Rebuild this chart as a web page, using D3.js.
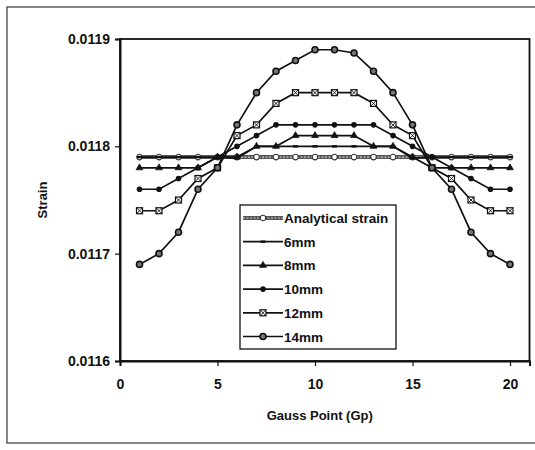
<!DOCTYPE html>
<html>
<head>
<meta charset="utf-8">
<script src="https://cdn.jsdelivr.net/npm/d3@7/dist/d3.min.js"></script>
<style>
  html, body { margin: 0; padding: 0; background: #fff; }
  svg { display: block; font-family: "Liberation Sans", Arial, sans-serif; }
</style>
</head>
<body>
<div id="chart"></div>
<script>
// Strain along the gauss points, one series per mesh size
const gaussPoints = [1, 2, 3, 4, 5, 6, 7, 8, 9, 10, 11, 12, 13, 14, 15, 16, 17, 18, 19, 20];

const analytical = [0.01179, 0.01179, 0.01179, 0.01179, 0.01179, 0.01179, 0.01179, 0.01179, 0.01179, 0.01179,
                    0.01179, 0.01179, 0.01179, 0.01179, 0.01179, 0.01179, 0.01179, 0.01179, 0.01179, 0.01179];
const mm6  = [0.01179, 0.01179, 0.01179, 0.01179, 0.01179, 0.011789, 0.0118, 0.0118, 0.0118, 0.0118,
              0.0118, 0.0118, 0.0118, 0.0118, 0.011789, 0.01179, 0.01179, 0.01179, 0.01179, 0.01179];
const mm8  = [0.01178, 0.01178, 0.01178, 0.01178, 0.01179, 0.01179, 0.0118, 0.0118, 0.01181, 0.01181,
              0.01181, 0.01181, 0.0118, 0.0118, 0.01179, 0.01178, 0.01178, 0.01178, 0.01178, 0.01178];
const mm10 = [0.01176, 0.01176, 0.01177, 0.01178, 0.01179, 0.0118, 0.01181, 0.01182, 0.01182, 0.01182,
              0.01182, 0.01182, 0.01182, 0.01181, 0.0118, 0.01179, 0.01178, 0.01177, 0.01176, 0.01176];
const mm12 = [0.01174, 0.01174, 0.01175, 0.01177, 0.01178, 0.01181, 0.01182, 0.01184, 0.01185, 0.01185,
              0.01185, 0.01185, 0.01184, 0.01182, 0.01181, 0.01178, 0.01177, 0.01175, 0.01174, 0.01174];
const mm14 = [0.01169, 0.0117, 0.01172, 0.01176, 0.01178, 0.01182, 0.01185, 0.01187, 0.01188, 0.01189,
              0.01189, 0.011887, 0.01187, 0.01185, 0.01182, 0.01178, 0.01176, 0.01172, 0.0117, 0.01169];

const seriesNames = ["Analytical strain", "6mm", "8mm", "10mm", "12mm", "14mm"];
const seriesValues = [analytical, mm6, mm8, mm10, mm12, mm14];
const markerKinds = ["openCircle", "dash", "triangle", "dot", "boxX", "ringCircle"];

const yTicks = [0.0116, 0.0117, 0.0118, 0.0119];
const xTicks = [0, 5, 10, 15, 20];

const xTitle = "Gauss Point (Gp)";
const yTitle = "Strain";

// -------------------------------
// layout
// -------------------------------
const width = 535, height = 450;
const plot = { left: 120, top: 39, right: 529.5, bottom: 361 };

const svg = d3.select("#chart").append("svg")
  .attr("width", width)
  .attr("height", height);

// outer chart frame (right edge runs off the picture)
svg.append("rect")
  .attr("x", 7).attr("y", 7)
  .attr("width", 540).attr("height", 436)
  .attr("fill", "none")
  .attr("stroke", "#444")
  .attr("stroke-width", 1.3);

const x = d3.scaleLinear().domain([0, 21]).range([plot.left, plot.right]);
const y = d3.scaleLinear().domain([0.0116, 0.0119]).range([plot.bottom, plot.top]);

// plot area border
svg.append("rect")
  .attr("x", plot.left).attr("y", plot.top)
  .attr("width", plot.right - plot.left)
  .attr("height", plot.bottom - plot.top)
  .attr("fill", "none")
  .attr("stroke", "#111")
  .attr("stroke-width", 1.8);

// axes
const yAxis = svg.append("g")
  .attr("transform", `translate(${plot.left},0)`)
  .call(d3.axisLeft(y).tickValues(yTicks).tickFormat(d3.format(".4f")).tickSize(5).tickPadding(5));

const xAxis = svg.append("g")
  .attr("transform", `translate(0,${plot.bottom})`)
  .call(d3.axisBottom(x).tickValues(xTicks).tickSize(5).tickPadding(13));

[xAxis, yAxis].forEach(g => {
  g.select(".domain").attr("stroke", "#111").attr("stroke-width", 2);
  g.selectAll(".tick line").attr("stroke", "#111").attr("stroke-width", 1.2);
  g.selectAll("text")
    .attr("fill", "#111")
    .style("font-size", "14px")
    .style("font-weight", "bold")
    .style("font-family", "'Liberation Sans', Arial, sans-serif");
});

// axis titles
svg.append("text")
  .attr("x", (plot.left + plot.right) / 2 - 5)
  .attr("y", 420)
  .attr("text-anchor", "middle")
  .style("font-size", "13px")
  .style("font-weight", "bold")
  .attr("fill", "#111")
  .text(xTitle);

svg.append("text")
  .attr("transform", `translate(47,${(plot.top + plot.bottom) / 2}) rotate(-90)`)
  .attr("text-anchor", "middle")
  .style("font-size", "13px")
  .style("font-weight", "bold")
  .attr("fill", "#111")
  .text(yTitle);

// -------------------------------
// markers
// -------------------------------
function drawMarker(g, kind, cx, cy) {
  const m = g.append("g").attr("transform", `translate(${cx},${cy})`);
  if (kind === "openCircle") {
    m.append("circle").attr("r", 2.8).attr("fill", "#fff").attr("stroke", "#333").attr("stroke-width", 1.1);
  } else if (kind === "dash") {
    m.append("path").attr("d", "M-2.5,0H2.5").attr("stroke", "#111").attr("stroke-width", 2.5);
  } else if (kind === "triangle") {
    m.append("path").attr("d", d3.symbol().type(d3.symbolTriangle).size(20)())
      .attr("fill", "#111").attr("stroke", "#111").attr("stroke-width", 0.8);
  } else if (kind === "dot") {
    m.append("circle").attr("r", 2.8).attr("fill", "#111");
  } else if (kind === "boxX") {
    m.append("rect").attr("x", -3).attr("y", -3).attr("width", 6).attr("height", 6)
      .attr("fill", "#fff").attr("stroke", "#111").attr("stroke-width", 1.2);
    m.append("path").attr("d", "M-3,-3L3,3M3,-3L-3,3").attr("stroke", "#111").attr("stroke-width", 0.9);
  } else if (kind === "ringCircle") {
    m.append("circle").attr("r", 3).attr("fill", "#777").attr("stroke", "#111").attr("stroke-width", 1.6);
  }
}

function styleLine(path, i) {
  if (i === 0) {
    path.attr("stroke", "#555").attr("stroke-width", 4);
  } else {
    path.attr("stroke", "#111").attr("stroke-width", 1.7);
  }
}

const line = d3.line()
  .x((d, j) => x(gaussPoints[j]))
  .y(d => y(d));

const seriesG = svg.append("g");
seriesValues.forEach((vals, i) => {
  const g = seriesG.append("g");
  const p = g.append("path").datum(vals).attr("d", line).attr("fill", "none");
  styleLine(p, i);
  if (i === 0) {
    g.append("path").datum(vals).attr("d", line).attr("fill", "none")
      .attr("stroke", "#ccc").attr("stroke-width", 1.2).attr("stroke-dasharray", "2,1.5");
  }
  vals.forEach((v, j) => drawMarker(g, markerKinds[i], x(gaussPoints[j]), y(v)));
});

// -------------------------------
// legend
// -------------------------------
const legend = svg.append("g").attr("transform", "translate(240,205)");
legend.append("rect")
  .attr("width", 156).attr("height", 144)
  .attr("fill", "#fff")
  .attr("stroke", "#111")
  .attr("stroke-width", 1.3);

seriesNames.forEach((name, i) => {
  const row = legend.append("g").attr("transform", `translate(0,${13 + i * 23.7})`);
  const p = row.append("path").attr("d", "M3,0H43").attr("fill", "none");
  styleLine(p, i);
  if (i === 0) {
    row.append("path").attr("d", "M3,0H43").attr("stroke", "#ccc").attr("stroke-width", 1.2).attr("stroke-dasharray", "2,1.5");
  }
  drawMarker(row, markerKinds[i], 23, 0);
  row.append("text")
    .attr("x", 44)
    .attr("y", 5)
    .style("font-size", "13.5px")
    .style("font-weight", "bold")
    .attr("fill", "#111")
    .text(name);
});
</script>
</body>
</html>
